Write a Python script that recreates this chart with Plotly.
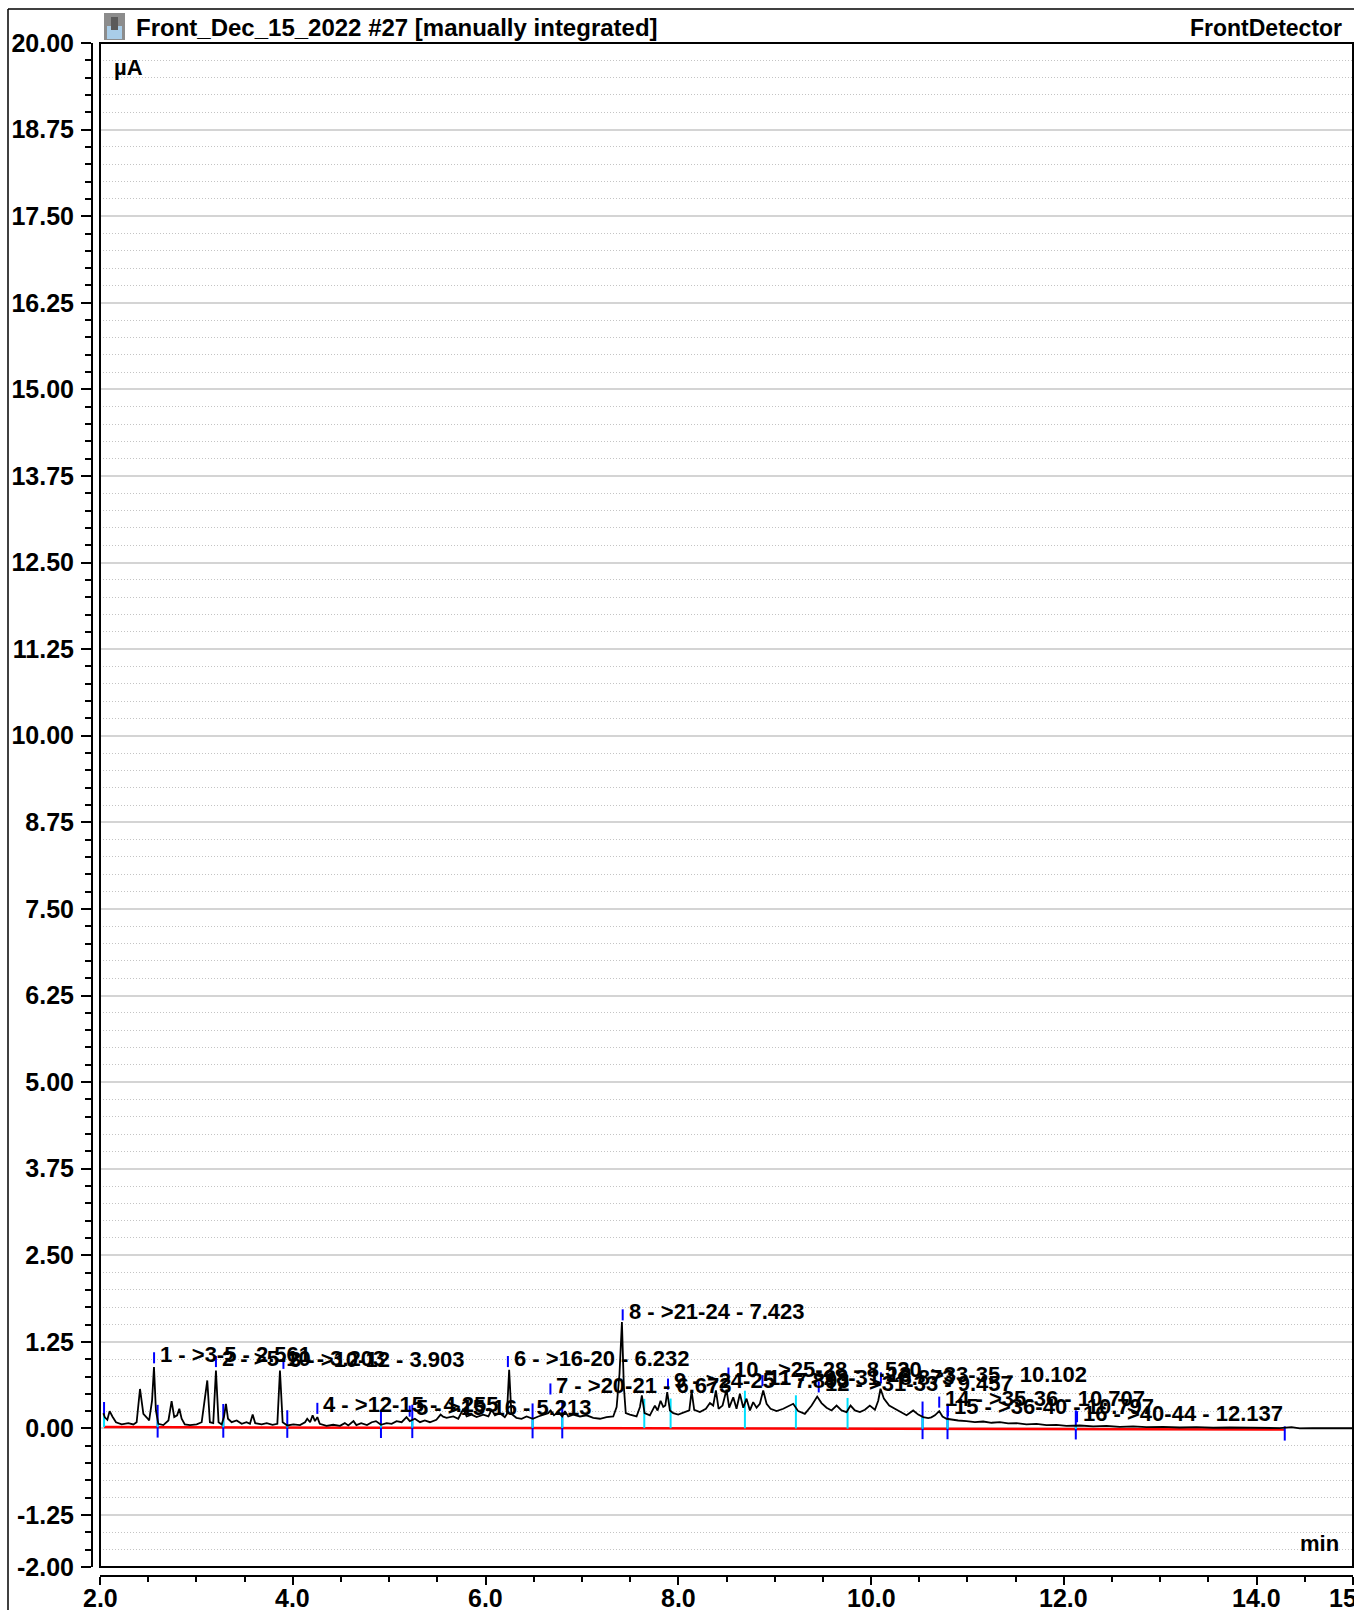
import numpy as np
import plotly.graph_objects as go

FONT = "Liberation Sans, Arial, sans-serif"

# ---------------- data ----------------
trace_t = [2.035, 2.05, 2.076, 2.10, 2.13, 2.166, 2.225, 2.294, 2.346, 2.38, 2.415, 2.45, 2.49, 2.51, 2.54, 2.56, 2.58,
           2.605, 2.657, 2.71, 2.743, 2.77, 2.80, 2.823, 2.847, 2.88, 2.934, 3.003, 3.055, 3.08, 3.113, 3.14, 3.175,
           3.203, 3.23, 3.262, 3.286, 3.307, 3.328, 3.366, 3.418, 3.47, 3.52, 3.556, 3.584, 3.61, 3.677, 3.73, 3.79,
           3.84, 3.867, 3.895, 3.943, 4.006, 4.075, 4.127, 4.15, 4.18, 4.206, 4.23, 4.255, 4.28, 4.35, 4.42, 4.49,
           4.54, 4.576, 4.63, 4.66, 4.71, 4.77, 4.82, 4.863, 4.915, 4.974, 5.026, 5.077, 5.13, 5.18, 5.214, 5.267,
           5.32, 5.37, 5.423, 5.49, 5.534, 5.56, 5.596, 5.665, 5.717, 5.77, 5.804, 5.855, 5.907, 5.977, 6.03, 6.063,
           6.098, 6.15, 6.2, 6.222, 6.245, 6.268, 6.32, 6.374, 6.426, 6.49, 6.547, 6.599, 6.65, 6.675, 6.71, 6.755,
           6.796, 6.824, 6.858, 6.91, 6.98, 7.048, 7.118, 7.187, 7.256, 7.325, 7.36, 7.39, 7.415, 7.435, 7.455,
           7.498, 7.567, 7.602, 7.622, 7.65, 7.705, 7.757, 7.785, 7.816, 7.844, 7.865, 7.885, 7.913, 7.948, 7.999,
           8.058, 8.114, 8.138, 8.165, 8.224, 8.286, 8.328, 8.362, 8.39, 8.418, 8.459, 8.5, 8.528, 8.57, 8.604,
           8.639, 8.674, 8.708, 8.743, 8.777, 8.812, 8.846, 8.881, 8.916, 8.957, 9.02, 9.089, 9.14, 9.192, 9.244,
           9.313, 9.383, 9.441, 9.486, 9.538, 9.59, 9.642, 9.694, 9.745, 9.787, 9.832, 9.884, 9.936, 9.987, 10.04,
           10.074, 10.098, 10.133, 10.188, 10.247, 10.306, 10.368, 10.437, 10.489, 10.541, 10.593, 10.625, 10.662,
           10.707, 10.741, 10.783, 10.834, 10.904, 10.99, 11.077, 11.163, 11.25, 11.336, 11.422, 11.509, 11.612,
           11.716, 11.82, 11.924, 12.027, 12.166, 12.304, 12.442, 12.581, 12.719, 12.857, 13.03, 13.203, 13.376,
           13.549, 13.722, 13.895, 14.067, 14.24, 14.362, 14.448, 14.58, 14.755, 14.93, 15.0]
trace_v = [0.22, 0.16, 0.125, 0.25, 0.17, 0.09, 0.058, 0.077, 0.058, 0.09, 0.57, 0.21, 0.15, 0.115, 0.40, 0.886, 0.26,
           0.067, 0.048, 0.115, 0.395, 0.164, 0.19, 0.284, 0.14, 0.058, 0.048, 0.058, 0.09, 0.356, 0.693, 0.09, 0.077,
           0.837, 0.09, 0.058, 0.164, 0.356, 0.14, 0.09, 0.115, 0.067, 0.09, 0.067, 0.20, 0.077, 0.058, 0.077, 0.053,
           0.067, 0.837, 0.09, 0.043, 0.058, 0.048, 0.09, 0.14, 0.09, 0.19, 0.106, 0.164, 0.067, 0.038, 0.053, 0.038,
           0.077, 0.043, 0.106, 0.048, 0.077, 0.048, 0.09, 0.106, 0.053, 0.077, 0.067, 0.106, 0.09, 0.164, 0.106, 0.14,
           0.09, 0.115, 0.09, 0.125, 0.20, 0.17, 0.154, 0.173, 0.14, 0.284, 0.173, 0.20, 0.164, 0.20, 0.173, 0.27,
           0.19, 0.22, 0.164, 0.21, 0.847, 0.21, 0.154, 0.14, 0.173, 0.14, 0.173, 0.20, 0.22, 0.26, 0.19, 0.236,
           0.173, 0.25, 0.173, 0.20, 0.173, 0.19, 0.154, 0.14, 0.164, 0.173, 0.31, 0.79, 1.535, 0.60, 0.22,
           0.20, 0.173, 0.31, 0.477, 0.22, 0.19, 0.33, 0.26, 0.40, 0.31, 0.33, 0.525, 0.26, 0.22, 0.20,
           0.236, 0.26, 0.54, 0.27, 0.236, 0.284, 0.366, 0.33, 0.55, 0.284, 0.33, 0.56, 0.30, 0.45, 0.284,
           0.50, 0.30, 0.43, 0.26, 0.38, 0.30, 0.356, 0.55, 0.356, 0.284, 0.25, 0.284, 0.318, 0.356, 0.25,
           0.21, 0.33, 0.46, 0.366, 0.30, 0.26, 0.33, 0.26, 0.236, 0.33, 0.26, 0.236, 0.27, 0.33, 0.27,
           0.40, 0.573, 0.43, 0.33, 0.284, 0.236, 0.19, 0.26, 0.20, 0.164, 0.15, 0.16, 0.19,
           0.25, 0.173, 0.14, 0.125, 0.115, 0.106, 0.09, 0.10, 0.082, 0.09, 0.072, 0.077, 0.058,
           0.067, 0.048, 0.053, 0.038, 0.043, 0.029, 0.038, 0.024, 0.029, 0.019, 0.024, 0.014, 0.019,
           0.01, 0.014, 0.01, 0.005, 0.005, 0.019, 0.0, 0.005, 0.0, 0.0, 0.003]

baseline_t = [2.042, 14.292]
baseline_v = [0.02, -0.015]

boundary_t = [2.042, 2.598, 3.279, 3.943, 4.915, 5.24, 6.488, 6.796, 7.647, 7.92, 8.691, 9.22, 9.756,
              10.534, 10.793, 12.124, 14.292]
boundary_kind = ["start", "a", "a", "a", "a", "a", "a", "a", "b", "b", "b", "b", "b", "a", "a", "a", "end"]

peak_no = [1, 2, 3, 4, 5, 6, 7, 8, 9, 10, 11, 12, 13, 14, 15, 16]
peak_range = [">3-5", ">5-10", ">10-12", ">12-15", ">15-16", ">16-20", ">20-21", ">21-24", ">24-25", ">25-28",
              ">28-31", ">31-33", ">33-35", ">35-36", ">36-40", ">40-44"]
peak_rt = [2.561, 3.203, 3.903, 4.255, 5.213, 6.232, 6.673, 7.423, 7.893, 8.520, 8.873, 9.457, 10.102, 10.707,
           10.797, 12.137]
peak_mark_h = [0.94, 0.886, 0.86, 0.21, 0.17, 0.886, 0.49, 1.56, 0.56, 0.72, 0.61, 0.52, 0.65, 0.30, 0.18, 0.09]

y_ticks = [20.0, 18.75, 17.5, 16.25, 15.0, 13.75, 12.5, 11.25, 10.0, 8.75, 7.5, 6.25, 5.0, 3.75, 2.5, 1.25, 0.0,
           -1.25, -2.0]
y_labels = ["20.00", "18.75", "17.50", "16.25", "15.00", "13.75", "12.50", "11.25", "10.00", "8.75", "7.50",
            "6.25", "5.00", "3.75", "2.50", "1.25", "0.00", "-1.25", "-2.00"]
x_ticks = [2, 4, 6, 8, 10, 12, 14, 15]
x_labels = ["2.0", "4.0", "6.0", "8.0", "10.0", "12.0", "14.0", "15.0"]

title_text = "Front_Dec_15_2022 #27 [manually integrated]"
detector_text = "FrontDetector"

# ---------------- geometry helpers (pixel -> paper) ----------------
W, H = 1354, 1610
PL, PR, PT, PB = 92, 1353, 43, 1576
PW, PH = PR - PL, PB - PT


def px(x):
    return (x - PL) / PW


def py(y):
    return (PB - y) / PH


fig = go.Figure()

# red integration baseline
fig.add_trace(go.Scatter(x=baseline_t, y=baseline_v, mode="lines",
                         line=dict(color="#ff0000", width=2.5), hoverinfo="skip"))

# delimiters
tt = np.array(trace_t)
vv = np.array(trace_v)
blue_x, blue_y, cyan_x, cyan_y = [], [], [], []
for t, k in zip(boundary_t, boundary_kind):
    v = float(np.interp(t, tt, vv))
    b = float(np.interp(t, baseline_t, baseline_v))
    if k == "start":
        blue_x += [t, t, None]; blue_y += [v, v + 0.19, None]
        cyan_x += [t, t, None]; cyan_y += [b, v, None]
    elif k == "end":
        blue_x += [t, t, None]; blue_y += [b - 0.16, v + 0.02, None]
    elif k == "a":
        blue_x += [t, t, None]; blue_y += [b - 0.15, v + 0.22, None]
        cyan_x += [t, t, None]; cyan_y += [b, v, None]
    else:
        cyan_x += [t, t, None]; cyan_y += [b, v + 0.18, None]

fig.add_trace(go.Scatter(x=blue_x, y=blue_y, mode="lines", line=dict(color="#0000ff", width=2),
                         hoverinfo="skip"))
fig.add_trace(go.Scatter(x=cyan_x, y=cyan_y, mode="lines", line=dict(color="#00e0ff", width=2),
                         hoverinfo="skip"))

# chromatogram trace
fig.add_trace(go.Scatter(x=trace_t, y=trace_v, mode="lines", line=dict(color="black", width=1.8),
                         hoverinfo="skip"))

# peak label markers
mx, my = [], []
for t, h in zip(peak_rt, peak_mark_h):
    mx += [t, t, None]; my += [h, h + 0.16, None]
fig.add_trace(go.Scatter(x=mx, y=my, mode="lines", line=dict(color="#0000ff", width=2), hoverinfo="skip"))

annotations = []
for n, r, t, h in zip(peak_no, peak_range, peak_rt, peak_mark_h):
    annotations.append(dict(x=t, y=h + 0.13, xref="x", yref="y", text=f"{n} - {r} - {t:.3f}",
                            showarrow=False, xanchor="left", yanchor="middle", xshift=4,
                            font=dict(family=FONT, size=22, color="black", weight="bold")))

# x tick labels (placed just below the tick marks)
for v, s in zip(x_ticks, x_labels):
    annotations.append(dict(x=v, y=py(1598), xref="x", yref="paper", text=s, showarrow=False,
                            xanchor="center", yanchor="middle",
                            font=dict(family=FONT, size=25, color="black", weight="bold")))

annotations += [
    dict(x=px(134), y=py(27), xref="paper", yref="paper", text=title_text, showarrow=False,
         xanchor="left", yanchor="middle", font=dict(family=FONT, size=24, color="black", weight="bold")),
    dict(x=px(1344), y=py(28), xref="paper", yref="paper", text=detector_text, showarrow=False,
         xanchor="right", yanchor="middle", font=dict(family=FONT, size=23, color="black", weight="bold")),
    dict(x=px(112), y=py(67), xref="paper", yref="paper", text="µA", showarrow=False,
         xanchor="left", yanchor="middle", font=dict(family=FONT, size=22, color="black", weight="bold")),
    dict(x=px(1341), y=py(1543), xref="paper", yref="paper", text="min", showarrow=False,
         xanchor="right", yanchor="middle", font=dict(family=FONT, size=22, color="black", weight="bold")),
]

shapes = [
    # plot box
    dict(type="rect", xref="x domain", yref="y domain", x0=0, x1=1, y0=0, y1=1,
         line=dict(color="black", width=2), layer="above"),
    # outer frame
    dict(type="line", xref="paper", yref="paper", x0=px(8), x1=px(8), y0=py(9), y1=py(1612),
         line=dict(color="black", width=1.5)),
    dict(type="line", xref="paper", yref="paper", x0=px(8), x1=px(1356), y0=py(9), y1=py(9),
         line=dict(color="black", width=1.5)),
    # icon
    dict(type="rect", xref="paper", yref="paper", x0=px(104), x1=px(125), y0=py(40), y1=py(13),
         fillcolor="#8c8c8c", line=dict(width=0)),
    dict(type="rect", xref="paper", yref="paper", x0=px(107), x1=px(122), y0=py(39), y1=py(26),
         fillcolor="#a9cde8", line=dict(width=0)),
    dict(type="rect", xref="paper", yref="paper", x0=px(111), x1=px(118), y0=py(30), y1=py(17),
         fillcolor="#5a5a5a", line=dict(width=0)),
]

tickfont = dict(family=FONT, size=25, color="black", weight="bold")

fig.update_layout(
    width=W, height=H,
    margin=dict(l=PL, r=W - PR, t=PT, b=H - PB, pad=0),
    paper_bgcolor="white", plot_bgcolor="white",
    showlegend=False,
    annotations=annotations,
    shapes=shapes,
    xaxis=dict(range=[2, 15], domain=[8 / PW, 1], anchor="free", position=0,
               showline=True, linecolor="black", linewidth=2,
               ticks="outside", ticklen=8, tickwidth=2, tickcolor="black",
               tickmode="array", tickvals=x_ticks, showticklabels=False,
               showgrid=False, zeroline=False, automargin=False, fixedrange=True,
               minor=dict(dtick=0.5, tick0=2, ticks="outside", ticklen=5, tickwidth=2,
                          tickcolor="black", showgrid=False)),
    yaxis=dict(range=[-2, 20], domain=[9 / PH, 1], anchor="free", position=0,
               showline=True, linecolor="black", linewidth=2,
               ticks="outside", ticklen=10, tickwidth=2, tickcolor="black",
               tickmode="array", tickvals=y_ticks, ticktext=y_labels, tickfont=tickfont,
               ticklabelstandoff=2,
               showgrid=True, gridcolor="#d4d4d4", gridwidth=2,
               zeroline=False, automargin=False, fixedrange=True,
               minor=dict(dtick=0.25, tick0=0, ticks="outside", ticklen=6, tickwidth=2,
                          tickcolor="black", showgrid=True, gridcolor="#c4c4c4",
                          gridwidth=1, griddash="1px,2px")),
)

fig.write_html("out.html", config={"displayModeBar": False},
               post_script="document.body.style.margin='0px';document.body.style.overflow='hidden';")
